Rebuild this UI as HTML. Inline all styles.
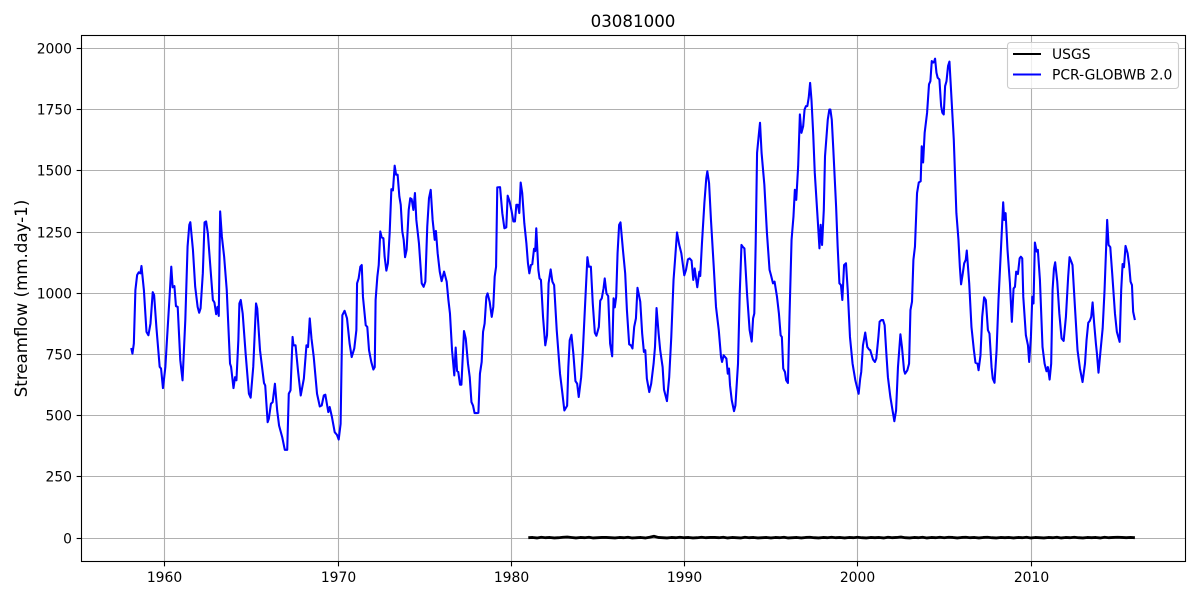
<!DOCTYPE html>
<html lang="en">
<head>
<meta charset="utf-8">
<title>03081000 streamflow</title>
<style>
html,body{margin:0;padding:0;background:#fff;}
#chart{display:block;width:1200px;height:600px;}
text{font-family:"DejaVu Sans","Liberation Sans",sans-serif;fill:#000;}
</style>
</head>
<body>
<svg id="chart" xmlns="http://www.w3.org/2000/svg" width="1200" height="600" viewBox="0 0 1200 600">
  <rect x="0" y="0" width="1200" height="600" fill="#fff"/>
  <g id="grid"></g>
  <g id="series"></g>
  <rect x="81.5" y="35.5" width="1104" height="526" fill="none" stroke="#000" stroke-width="1.1"/>
  <g id="ticks"></g>
  <text x="633" y="27" font-size="16.67" text-anchor="middle">03081000</text>
  <text transform="translate(27 298.5) rotate(-90)" font-size="16.67" text-anchor="middle">Streamflow (mm.day-1)</text>
  <g>
    <rect x="1007.5" y="42.5" width="171" height="46" rx="3" fill="#fff" fill-opacity="0.8" stroke="#ccc" stroke-width="1.1"/>
    <line x1="1013" y1="54" x2="1041" y2="54" stroke="#000" stroke-width="2.08"/>
    <text x="1052" y="59" font-size="13.89">USGS</text>
    <line x1="1013" y1="74.5" x2="1041" y2="74.5" stroke="#00f" stroke-width="2.08"/>
    <text x="1052" y="79.5" font-size="13.89">PCR-GLOBWB 2.0</text>
  </g>
</svg>
<script>
const xTickLabels = [1960, 1970, 1980, 1990, 2000, 2010];
const yTickLabels = [0, 250, 500, 750, 1000, 1250, 1500, 1750, 2000];

const pcrYears = [
1958.07,1958.14,1958.22,1958.31,1958.41,1958.5,1958.6,1958.66,1958.8,1958.95,
1959.06,1959.18,1959.31,1959.39,1959.52,1959.71,1959.79,1959.9,1960.04,1960.13,
1960.27,1960.38,1960.46,1960.56,1960.65,1960.75,1960.9,1961.03,1961.19,1961.32,
1961.42,1961.48,1961.63,1961.76,1961.9,1961.99,1962.07,1962.2,1962.3,1962.39,
1962.49,1962.62,1962.78,1962.87,1962.97,1963.05,1963.12,1963.2,1963.3,1963.43,
1963.58,1963.77,1963.83,1963.97,1964.06,1964.14,1964.25,1964.31,1964.39,1964.5,
1964.67,1964.86,1964.96,1965.11,1965.27,1965.34,1965.5,1965.73,1965.8,1965.94,
1966.01,1966.13,1966.23,1966.36,1966.49,1966.6,1966.78,1966.93,1967.07,1967.16,
1967.26,1967.38,1967.43,1967.55,1967.7,1967.85,1968.03,1968.18,1968.27,1968.37,
1968.47,1968.6,1968.79,1968.95,1969.06,1969.18,1969.27,1969.44,1969.52,1969.65,
1969.81,1969.94,1970.04,1970.15,1970.25,1970.38,1970.52,1970.67,1970.79,1970.94,
1971.06,1971.1,1971.19,1971.29,1971.37,1971.44,1971.6,1971.69,1971.79,1971.92,
1972.04,1972.12,1972.17,1972.27,1972.35,1972.44,1972.52,1972.62,1972.69,1972.79,
1972.88,1972.98,1973.08,1973.17,1973.27,1973.35,1973.44,1973.54,1973.62,1973.71,
1973.79,1973.87,1973.96,1974.08,1974.17,1974.25,1974.35,1974.44,1974.52,1974.67,
1974.83,1974.94,1975.04,1975.15,1975.25,1975.35,1975.46,1975.58,1975.65,1975.75,
1975.87,1975.98,1976.12,1976.27,1976.37,1976.46,1976.58,1976.71,1976.79,1976.87,
1976.94,1977.04,1977.12,1977.27,1977.37,1977.5,1977.6,1977.7,1977.79,1977.88,
1978.02,1978.1,1978.19,1978.29,1978.37,1978.46,1978.56,1978.63,1978.75,1978.87,
1978.96,1979.04,1979.12,1979.19,1979.35,1979.48,1979.6,1979.71,1979.79,1979.9,
1980.02,1980.12,1980.21,1980.29,1980.38,1980.46,1980.54,1980.63,1980.75,1980.87,
1980.96,1981.04,1981.13,1981.21,1981.31,1981.38,1981.44,1981.56,1981.63,1981.71,
1981.83,1981.96,1982.06,1982.15,1982.27,1982.37,1982.47,1982.62,1982.81,1982.95,
1983.06,1983.22,1983.29,1983.37,1983.47,1983.58,1983.7,1983.8,1983.89,1984.03,
1984.12,1984.26,1984.39,1984.47,1984.59,1984.7,1984.82,1984.91,1985.05,1985.13,
1985.22,1985.32,1985.39,1985.49,1985.59,1985.7,1985.82,1985.9,1985.97,1986.05,
1986.13,1986.22,1986.3,1986.44,1986.57,1986.67,1986.8,1986.9,1986.99,1987.09,
1987.19,1987.28,1987.44,1987.55,1987.65,1987.73,1987.82,1987.96,1988.07,1988.21,
1988.29,1988.38,1988.5,1988.59,1988.73,1988.81,1988.98,1989.11,1989.23,1989.36,
1989.46,1989.56,1989.69,1989.81,1989.98,1990.08,1990.19,1990.29,1990.4,1990.5,
1990.58,1990.73,1990.85,1990.9,1991.0,1991.14,1991.25,1991.31,1991.41,1991.52,
1991.68,1991.81,1991.97,1992.1,1992.16,1992.25,1992.41,1992.49,1992.56,1992.62,
1992.72,1992.85,1992.93,1993.08,1993.18,1993.28,1993.37,1993.45,1993.6,1993.75,
1993.87,1993.95,1994.02,1994.1,1994.18,1994.29,1994.35,1994.44,1994.6,1994.75,
1994.9,1994.98,1995.1,1995.19,1995.33,1995.44,1995.54,1995.61,1995.69,1995.79,
1995.86,1995.96,1996.05,1996.17,1996.28,1996.36,1996.44,1996.55,1996.65,1996.74,
1996.84,1996.92,1997.0,1997.08,1997.16,1997.24,1997.32,1997.42,1997.51,1997.68,
1997.78,1997.85,1997.93,1998.03,1998.1,1998.26,1998.35,1998.41,1998.49,1998.58,
1998.74,1998.83,1998.93,1999.02,1999.1,1999.2,1999.31,1999.41,1999.54,1999.69,
1999.85,2000.04,2000.13,2000.19,2000.29,2000.42,2000.54,2000.64,2000.71,2000.87,
2000.98,2001.06,2001.18,2001.25,2001.35,2001.45,2001.54,2001.64,2001.73,2001.87,
2001.98,2002.1,2002.2,2002.31,2002.45,2002.54,2002.66,2002.72,2002.85,2002.95,
2003.03,2003.12,2003.2,2003.29,2003.41,2003.51,2003.62,2003.68,2003.76,2003.85,
2003.99,2004.1,2004.18,2004.26,2004.34,2004.39,2004.45,2004.53,2004.6,2004.7,
2004.8,2004.87,2004.95,2005.03,2005.11,2005.2,2005.28,2005.38,2005.53,2005.68,
2005.8,2005.88,2005.95,2006.05,2006.13,2006.22,2006.28,2006.42,2006.55,2006.69,
2006.78,2006.9,2006.96,2007.07,2007.17,2007.28,2007.38,2007.5,2007.59,2007.71,
2007.78,2007.88,2008.0,2008.11,2008.25,2008.38,2008.44,2008.52,2008.63,2008.77,
2008.88,2008.98,2009.06,2009.13,2009.23,2009.33,2009.4,2009.48,2009.54,2009.69,
2009.81,2009.88,2009.98,2010.06,2010.13,2010.21,2010.31,2010.38,2010.5,2010.65,
2010.77,2010.88,2010.96,2011.06,2011.15,2011.23,2011.31,2011.38,2011.5,2011.62,
2011.75,2011.87,2012.0,2012.13,2012.21,2012.31,2012.38,2012.52,2012.67,2012.81,
2012.96,2013.1,2013.19,2013.29,2013.38,2013.46,2013.54,2013.63,2013.73,2013.79,
2013.88,2014.0,2014.12,2014.23,2014.38,2014.46,2014.56,2014.67,2014.83,2014.94,
2015.1,2015.19,2015.27,2015.35,2015.44,2015.56,2015.65,2015.73,2015.81,2015.88,
2015.98
];

const pcrFlow = [
777,754,795,1014,1075,1086,1082,1112,1014,843,
829,877,1005,993,863,700,693,613,700,809,
973,1109,1025,1030,948,945,727,645,891,1191,
1280,1291,1178,1027,945,921,939,1082,1290,1294,
1246,1123,973,963,915,945,908,1335,1232,1150,
1014,713,700,613,658,645,809,959,973,918,
754,590,574,700,959,939,768,634,624,474,
488,549,556,631,522,460,413,361,361,590,
604,822,788,788,679,583,652,788,781,898,
816,740,590,538,542,583,586,515,536,495,
433,422,403,467,911,929,898,795,740,775,
850,1041,1061,1109,1116,986,870,863,768,720,
689,699,973,1068,1116,1253,1229,1225,1150,1093,
1123,1246,1426,1421,1522,1485,1485,1396,1362,1253,
1219,1148,1178,1341,1389,1385,1341,1410,1300,1205,
1041,1027,1048,1273,1389,1423,1300,1219,1255,1164,
1089,1050,1089,1048,973,918,768,665,779,683,
679,627,627,846,816,713,658,556,542,511,
511,512,672,720,843,877,986,1000,966,904,
945,1068,1109,1433,1434,1328,1266,1270,1399,1376,
1335,1294,1294,1362,1362,1328,1453,1410,1287,1205,
1123,1082,1116,1119,1182,1173,1266,1096,1061,1055,
904,788,829,1041,1098,1048,1034,850,672,590,
522,541,699,809,831,754,642,631,577,658,
754,959,1148,1109,1109,959,839,827,863,970,
980,1020,1061,1000,989,795,743,980,943,986,
1164,1280,1290,1178,1082,932,792,788,775,863,
898,1023,966,836,761,768,652,597,631,713,
781,940,836,768,699,607,560,658,822,1055,
1150,1249,1198,1164,1074,1096,1139,1143,1134,1055,
1102,1025,1089,1071,1205,1369,1471,1499,1451,1300,
1109,945,850,740,720,747,734,672,693,624,
563,519,542,713,1000,1198,1189,1184,1000,850,
803,898,918,1205,1574,1656,1697,1574,1444,1246,
1096,1075,1041,1048,986,918,829,822,693,679,
645,634,904,1219,1314,1423,1382,1519,1731,1656,
1683,1751,1765,1765,1800,1860,1790,1650,1492,1300,
1184,1280,1198,1341,1560,1710,1751,1751,1710,1587,
1355,1191,1041,1034,973,1116,1123,1014,822,713,
645,590,652,679,788,840,781,771,768,730,
720,734,822,884,891,891,870,754,658,577,
529,478,522,699,833,781,686,672,686,713,
932,966,1137,1191,1410,1453,1458,1601,1535,1656,
1738,1854,1867,1949,1943,1945,1959,1902,1881,1874,
1765,1738,1731,1847,1867,1929,1947,1820,1628,1328,
1219,1109,1037,1082,1123,1137,1175,1041,863,768,
717,713,686,747,904,984,973,850,836,699,
652,635,768,973,1178,1372,1300,1328,1178,1041,
884,1020,1027,1089,1079,1143,1150,1143,986,829,
788,720,822,986,959,1208,1171,1178,1055,781,
713,682,699,648,713,1014,1102,1127,1048,918,
816,806,904,1068,1148,1130,1116,945,768,693,
638,713,809,880,888,904,963,877,795,754,
676,768,857,1014,1300,1198,1189,1082,918,843,
802,1014,1120,1107,1194,1164,1116,1048,1034,925,
891
];

const usgsFirstYear = 1980.98;
const usgsLastYear = 2015.98;
const usgsFlow = [
2,3,1,4,2,3,1,2,4,5,
3,1,3,2,4,1,2,3,3,2,
1,3,2,4,1,2,3,1,4,8,
3,2,1,3,2,4,2,3,1,2,
4,2,3,3,2,4,1,3,2,1,
4,2,3,1,2,3,1,3,2,4,
1,2,3,1,3,4,2,1,3,2,
4,2,3,1,3,2,4,2,1,3,
2,3,1,4,2,3,5,2,1,3,
2,4,1,3,2,4,2,4,3,1,
3,4,2,3,1,3,4,2,1,3,
2,3,1,3,2,4,1,3,2,1,
3,2,4,1,3,2,4,2,1,3,
2,3,1,4,2,3,4,3,2,3,
2
];

const plotLeft = 81.5, plotRight = 1185.5, plotTop = 35.5, plotBottom = 561.5;
const xMin = 1955.2, xMax = 2018.9, yMin = -95.2, yMax = 2053.5;

function xScale(year) {
  return plotLeft + (year - xMin) / (xMax - xMin) * (plotRight - plotLeft);
}
function yScale(flow) {
  return plotBottom - (flow - yMin) / (yMax - yMin) * (plotBottom - plotTop);
}
function crisp(v) {
  return Math.floor(v) + 0.5;
}
const NS = 'http://www.w3.org/2000/svg';
function make(tag, parent, attrs) {
  const el = document.createElementNS(NS, tag);
  for (const k in attrs) el.setAttribute(k, attrs[k]);
  parent.appendChild(el);
  return el;
}

const gridGroup = document.getElementById('grid');
const tickGroup = document.getElementById('ticks');
const seriesGroup = document.getElementById('series');

xTickLabels.forEach(function (year) {
  const x = crisp(xScale(year));
  const grid = make('line', gridGroup, {x1: x, x2: x, y1: plotTop, y2: plotBottom, stroke: '#b0b0b0', 'stroke-width': 1.1});
  
  
  const tick = make('line', tickGroup, {x1: x, x2: x, y1: plotBottom, y2: plotBottom + 4.86, stroke: '#000', 'stroke-width': 1.1});
  
  
  const label = make('text', tickGroup, {x: x, y: 582, 'font-size': 13.89, 'text-anchor': 'middle'});
  label.textContent = String(year);
  
  
});

yTickLabels.forEach(function (flow) {
  const y = crisp(yScale(flow));
  const grid = make('line', gridGroup, {x1: plotLeft, x2: plotRight, y1: y, y2: y, stroke: '#b0b0b0', 'stroke-width': 1.1});
  
  
  const tick = make('line', tickGroup, {x1: plotLeft - 4.86, x2: plotLeft, y1: y, y2: y, stroke: '#000', 'stroke-width': 1.1});
  
  
  const label = make('text', tickGroup, {x: 72, y: y + 5, 'font-size': 13.89, 'text-anchor': 'end'});
  label.textContent = String(flow);
  
  
});

const usgsPoints = usgsFlow.map(function (flow, i) {
  const year = usgsFirstYear + (usgsLastYear - usgsFirstYear) * i / (usgsFlow.length - 1);
  return xScale(year).toFixed(2) + ',' + yScale(flow).toFixed(2);
}).join(' ');
const usgsLine = make('polyline', seriesGroup, {points: usgsPoints, fill: 'none', stroke: '#000', 'stroke-width': 2.8, 'stroke-linejoin': 'round'});



const pcrPoints = pcrFlow.map(function (flow, i) {
  return xScale(pcrYears[i]).toFixed(2) + ',' + yScale(flow).toFixed(2);
}).join(' ');
const pcrLine = make('polyline', seriesGroup, {points: pcrPoints, fill: 'none', stroke: '#00f', 'stroke-width': 2.08, 'stroke-linejoin': 'round'});


</script>
</body>
</html>
